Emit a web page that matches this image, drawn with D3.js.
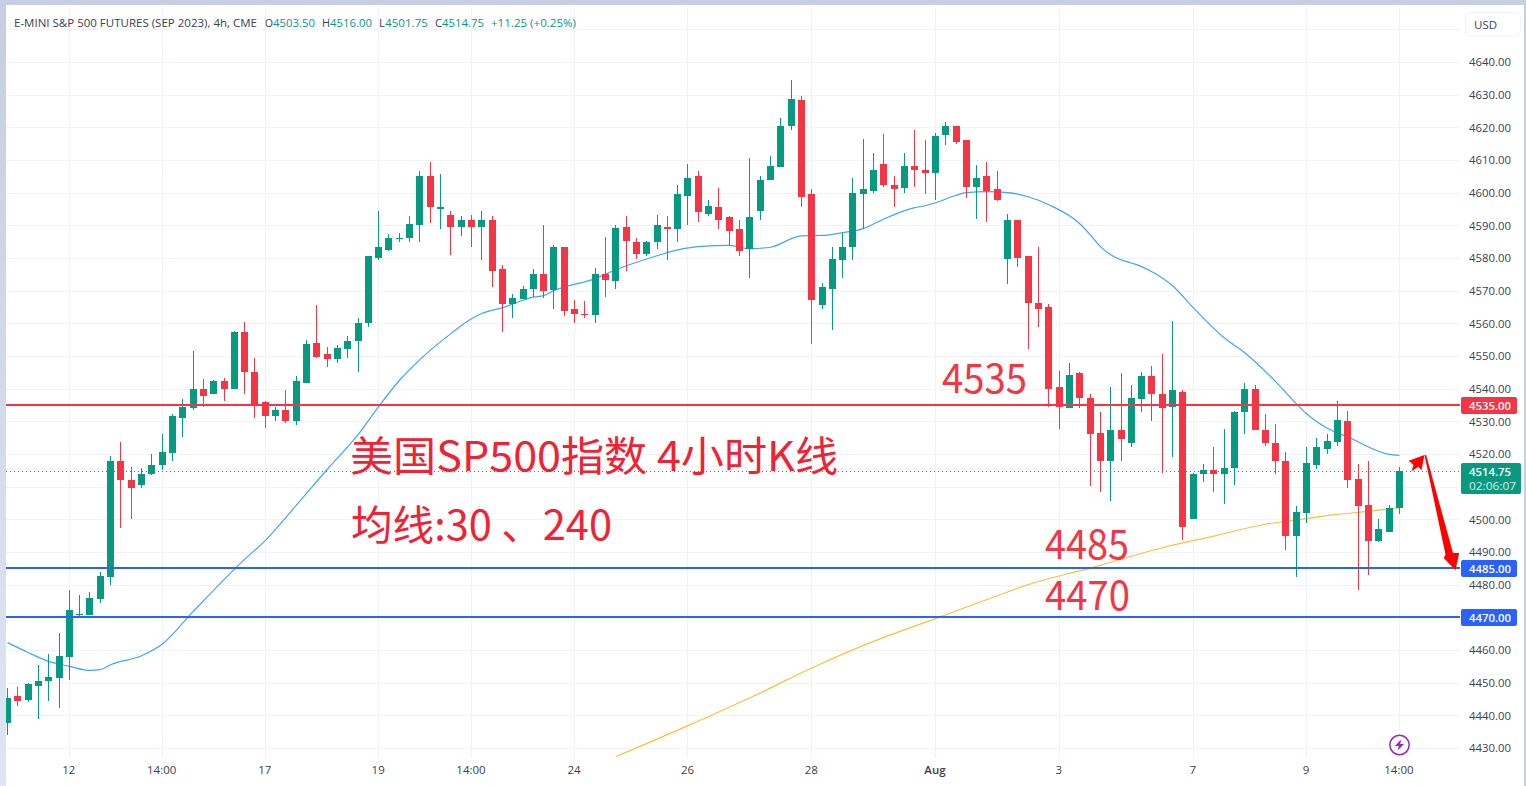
<!DOCTYPE html>
<html><head><meta charset="utf-8">
<style>
html,body{margin:0;padding:0;background:#fff;overflow:hidden}
svg{display:block}
text{font-family:"Open Sans","Noto Sans",sans-serif}
.cjk text{font-family:"Noto Sans CJK SC","Noto Sans",sans-serif}
</style></head><body>
<svg id="c" width="1526" height="786"></svg>
<script src="https://cdn.jsdelivr.net/npm/d3@7"></script>
<script>
const open=[4437.75,4446,4444.75,4449,4450.5,4451.5,4458,4470.75,4470.75,4475.75,
4482.5,4518,4512,4510.5,4513.75,4516.5,4520.25,4531,4534,4539.75,
4538.25,4542.5,4540,4557.5,4545.25,4536,4531.5,4533.5,4530,4541.75,
4554,4550.5,4549,4552.25,4554.5,4560.25,4580,4582.5,4586,4586.25,
4590,4605.25,4595,4593.25,4589.5,4591.75,4589.5,4591.5,4576.5,4566,
4567.5,4570.5,4575,4570.25,4583.25,4564.25,4563,4562.5,4575,4573,
4589.5,4584.75,4581.25,4584.75,4589.5,4589,4599,4605,4593.5,4595.75,
4592.5,4588.75,4582.75,4594.5,4603.75,4608,4620.5,4628.5,4599.5,4565.75,
4570.5,4579.25,4583.5,4599.5,4600.5,4608.75,4602.5,4601.5,4608.25,4607,
4606,4617.5,4620.5,4616,4601.75,4605,4601,4579.75,4591.5,4580.5,
4566.25,4565,4540.5,4534,4544.75,4537.25,4526.5,4517.75,4527.5,4523.25,
4536.75,4543.75,4538.5,4534.25,4539,4500.25,4513.75,4515.25,4513.75,4515.75,
4533,4539.75,4527.5,4523.5,4518,4495,4502,4516.5,4521.5,4523.75,
4530.25,4512.5,4504.5,4493.25,4496.25,4503.5];
const close=[4445.25,4444.5,4449.5,4450.5,4451.75,4458.25,4472.25,4471,4476,4482.75,
4518,4512,4509.5,4514,4516.75,4520.5,4531.5,4534.25,4539.75,4537.75,
4542.5,4539.75,4557.25,4545,4534.75,4531.75,4533.5,4530,4542.25,4553.75,
4549.75,4549,4552.5,4554.5,4560.25,4580.5,4583.25,4586.25,4586.25,4590.5,
4605,4595.5,4595.75,4589.5,4591.75,4589.5,4591.5,4576,4566,4567.75,
4570.5,4575,4570,4583.25,4563.75,4562.75,4562.5,4575,4573.25,4589.25,
4585.25,4581.25,4584.75,4590,4589,4599.5,4604.5,4594,4596,4591.75,
4588.25,4582.25,4592.5,4603.75,4608.25,4620.5,4628.75,4598.75,4567,4571,
4579.75,4583.5,4599.75,4601,4607,4602.25,4601.25,4608.25,4607,4606,
4617.25,4620.5,4615.5,4601.75,4604.5,4600.5,4597.75,4591.5,4580,4566.25,
4564.5,4540,4534.25,4544.25,4537.25,4526,4517.75,4527.5,4524.5,4537.25,
4543.75,4538.25,4534,4539.5,4497.75,4514,4515.25,4513.75,4515.75,4533,
4540,4527.25,4523.25,4518,4495,4502.25,4517.25,4522,4524,4530.5,
4512,4504,4493.25,4497,4503.5,4514.75];
const high=[4448.5,4448.75,4450,4455.5,4458.75,4465.25,4478.5,4476.75,4477.75,4484,
4519.25,4523.75,4516,4515.75,4520,4526,4532.25,4536.75,4551.5,4543,
4542.75,4543.25,4557.75,4560.5,4549.25,4536.25,4534.5,4539.5,4543.75,4554.75,
4565.75,4552.75,4553.5,4556,4561.75,4580.75,4594.5,4587.25,4587.75,4592.75,
4606.5,4609.25,4605.75,4594.25,4592.75,4593.25,4594.25,4592.75,4577.75,4569,
4571.5,4576.5,4590,4584,4583.5,4567,4566.75,4577,4586.5,4590,
4592.75,4586.25,4585.25,4593.25,4592.75,4602.5,4608.75,4606.75,4597.75,4601.5,
4592.75,4591.75,4610.75,4605,4611.25,4622.75,4634.5,4629.5,4601,4572.25,
4583.25,4587.75,4604.5,4616.5,4612,4618,4605,4612,4619.25,4616,
4618.25,4621.75,4620.5,4616,4608.5,4609.25,4606.5,4593.5,4591.5,4580.75,
4583.5,4566,4545.5,4547.75,4545,4538.5,4533,4540.5,4544.75,4541,
4545.25,4547,4550.75,4560.75,4539.5,4514.25,4517,4522,4527.75,4533.25,
4541.75,4541,4532.25,4529.25,4520.5,4504,4522.25,4524.75,4526.25,4536.25,
4533.25,4517,4518,4500.25,4504.5,4516];
const low=[4434,4443,4444,4439,4444.5,4442.25,4450.75,4470.5,4470.75,4474.5,
4480,4497.25,4500.25,4509.5,4513.5,4515.25,4518,4525.25,4533.5,4534.5,
4538.25,4536.25,4540,4538.5,4531,4528,4530.25,4529.5,4528.75,4541.75,
4549.25,4546.5,4548,4549.25,4545,4558.75,4579.5,4582.25,4584.75,4585,
4584.75,4590.75,4588.75,4581,4586.75,4583.5,4579.25,4571,4557.5,4561.75,
4567.5,4568,4567.75,4564.25,4562.25,4560.25,4561.5,4560.25,4568,4570.5,
4576,4579.75,4580.75,4582.75,4579.25,4585,4590,4591,4592.75,4588.75,
4583.75,4580.5,4573.75,4591.5,4603.75,4607.75,4619.25,4595.75,4553.75,4564.5,
4558,4573.75,4579.25,4588.75,4600,4601.75,4595.5,4600,4601.75,4599.5,
4597.75,4614.5,4615,4598.5,4592,4591,4597.5,4572,4577.25,4552.25,
4558.75,4534.25,4527.75,4534,4534,4510.25,4508.5,4505.75,4517.75,4522.25,
4533,4530.25,4514.25,4519,4493.75,4500.25,4511.5,4508.5,4504.75,4510.5,
4526,4527.25,4522.5,4513.75,4490.5,4482.25,4499,4515.5,4520,4522.5,
4509.5,4478.5,4483,4493,4496.25,4501.75];

const ma30Index=[0,2,4,6,8,9,10,13,15,18,23,25,28,31,34,36,38,40,43,45,46,48,51,52,53,57,59,63,65,67,70,72,74,77,79,81,83,85,88,89,90,92,93,95,97,99,101,104,105,106,107,110,111,113,115,118,120,123,125,126,128,130,134,135];
const ma30Value=[4462.25,4459.25,4456.5,4455,4453.75,4454,4455.5,4458.25,4461.75,4471.75,4487.75,4493.5,4504.25,4515.25,4525.9,4534.5,4542.5,4548.9,4556.85,4561.4,4563,4564.8,4568,4568.5,4570,4573.7,4576.4,4580.7,4582.5,4583.5,4583.85,4582.85,4583.3,4586.8,4586.9,4587.75,4589,4591.95,4595.4,4596,4596.9,4599.2,4600,4600.3,4600,4598.75,4596.3,4590.5,4587.15,4583.5,4581,4577.35,4575.8,4571.5,4564.8,4555.6,4551,4542.15,4535.4,4532.3,4527.9,4525.2,4519.9,4519.6];
const ma240Index=[59,66,73,78,84,90,96,99,105,112,113,117,122,125,129,132,135];
const ma240Value=[4427.35,4436.85,4446.85,4454.5,4462.65,4469.6,4476.6,4480,4485.05,4491.3,4492.1,4494.85,4498.5,4499.75,4501.5,4502.45,4503.6];

const dateTickIndex=[6,15,25,36,45,55,66,78,90,102,115,126,135];
const dateTickLabel=["12","14:00","17","19","14:00","24","26","28","Aug","3","7","9","14:00"];
const priceTicks=d3.range(4430,4641,10);
const levelPrices=[4535,4485,4470];
const levelColors=["#f23645","#2962ff","#2962ff"];
const lastPrice=4514.75;
const countdown="02:06:07";

const UP="#089981",DOWN="#f23645";
const svg=d3.select("#c");
const x=d3.scaleLinear().domain([0,135]).range([7.5,1399.4]);
const y=d3.scaleLinear().domain([4430,4640]).range([748,62]);
const plotL=6,plotR=1460,plotT=7,plotB=758;

// frame
svg.append("rect").attr("width",1526).attr("height",786).attr("fill","#fff");
const defs=svg.append("defs");
const lg=defs.append("linearGradient").attr("id","lg").attr("x1",0).attr("x2",0).attr("y1",0).attr("y2",1);
lg.append("stop").attr("offset",0).attr("stop-color","#c5cfe1");
lg.append("stop").attr("offset",1).attr("stop-color","#dfe6f2");
svg.append("rect").attr("x",0).attr("y",0).attr("width",6).attr("height",786).attr("fill","url(#lg)");
svg.append("rect").attr("x",0).attr("y",0).attr("width",1526).attr("height",5).attr("fill","#c5cfe1");
svg.append("rect").attr("x",1524).attr("y",0).attr("width",2).attr("height",786).attr("fill","#c5cfe1");
defs.append("clipPath").attr("id","plot").append("rect").attr("x",plotL).attr("y",plotT).attr("width",plotR-plotL).attr("height",plotB-plotT);

const plot=svg.append("g").attr("clip-path","url(#plot)");
// grid
plot.append("g").selectAll("line").data(d3.range(4430,4651,10)).join("line")
  .attr("x1",plotL).attr("x2",plotR)
  .attr("y1",d=>Math.round(y(d))+.5).attr("y2",d=>Math.round(y(d))+.5)
  .attr("stroke","#f0f3fa");
plot.append("g").selectAll("line").data(dateTickIndex).join("line")
  .attr("y1",plotT).attr("y2",plotB)
  .attr("x1",d=>Math.floor(x(d))+.5).attr("x2",d=>Math.floor(x(d))+.5)
  .attr("stroke","#f0f3fa");

// last price dotted
plot.append("line").attr("x1",plotL).attr("x2",plotR)
  .attr("y1",Math.round(y(lastPrice))+.5).attr("y2",Math.round(y(lastPrice))+.5)
  .attr("stroke",UP).attr("stroke-dasharray","1 3");

// moving averages
const lineGen=d3.line().curve(d3.curveMonotoneX).x(d=>x(d[0])).y(d=>y(d[1]));
plot.append("path").attr("d",lineGen(d3.zip(ma240Index,ma240Value))).attr("fill","none").attr("stroke","#f9c040").attr("stroke-width",1.2);
plot.append("path").attr("d",lineGen(d3.zip(ma30Index,ma30Value))).attr("fill","none").attr("stroke","#42a5f5").attr("stroke-width",1.2);

// candles
const candles=d3.range(open.length);
const gc=plot.append("g");
gc.selectAll("rect.w").data(candles).join("rect").attr("class","w")
  .attr("x",i=>Math.floor(x(i))).attr("width",1)
  .attr("y",i=>Math.round(y(high[i]))).attr("height",i=>Math.max(1,Math.round(y(low[i]))-Math.round(y(high[i]))))
  .attr("fill",i=>close[i]>=open[i]?UP:DOWN);
gc.selectAll("rect.b").data(candles).join("rect").attr("class","b")
  .attr("x",i=>Math.floor(x(i))-3).attr("width",7)
  .attr("y",i=>Math.round(y(Math.max(open[i],close[i]))))
  .attr("height",i=>Math.max(1,Math.round(y(Math.min(open[i],close[i])))-Math.round(y(Math.max(open[i],close[i])))))
  .attr("fill",i=>close[i]>=open[i]?UP:DOWN);

// level lines
plot.append("g").selectAll("line").data(levelPrices).join("line")
  .attr("x1",plotL).attr("x2",plotR)
  .attr("y1",d=>Math.round(y(d))).attr("y2",d=>Math.round(y(d)))
  .attr("stroke",(d,i)=>levelColors[i]).attr("stroke-width",2);

// annotations text
const ann=svg.append("g").attr("class","cjk");
function note(t,xx,yy,len,size,fill){
  ann.append("text").text(t).attr("x",xx).attr("y",yy).attr("font-size",size).attr("fill",fill)
   .attr("textLength",len).attr("lengthAdjust","spacingAndGlyphs");
}
note("美国SP500指数 4小时K线",350,470.5,488,41,"#ef2334");
note("均线:30 、240",351,540,261,41,"#ef2334");
note("4535",942,393,85,40,"#f23645");
note("4485",1045,559,84,40,"#f23645");
note("4470",1045,610,85,40,"#f23645");

// hand-drawn arrows, given in chart coordinates
const arrowUp=[[137.43,4519.7],[135.9,4517.95],[136.37,4516.6],[136.17,4514.75],[136.85,4516.1],[137.14,4515.05]];
const arrowDown=[[137.43,4519.7],[137.6,4519.6],[140.2,4489.7],[140.8,4489.7],[140.44,4484.4],[139.3,4488.2],[139.47,4489.2]];
const poly=d3.line().x(d=>x(d[0])).y(d=>y(d[1]));
svg.append("path").attr("d",poly(arrowUp)+"Z").attr("fill","#ff0000");
svg.append("path").attr("d",poly(arrowDown)+"Z").attr("fill","#ff0000");

// axes
const axisColor="#3c414f";
const xAxis=d3.axisBottom(x).tickValues(dateTickIndex).tickFormat((d,i)=>dateTickLabel[i]).tickSize(0).tickPadding(0);
const gx=svg.append("g").attr("transform","translate(-1,765.5)").call(xAxis);
gx.select(".domain").remove();
gx.selectAll("text").attr("fill",axisColor).attr("font-size",11.5).attr("dy","0.75em")
  .attr("font-weight",d=>d===90?600:400);
const yAxis=d3.axisRight(y).tickValues(priceTicks).tickFormat(d3.format(".2f")).tickSize(0).tickPadding(0);
const gy=svg.append("g").attr("transform","translate(1469,0)").call(yAxis);
gy.select(".domain").remove();
gy.selectAll("text").attr("fill",axisColor).attr("font-size",11.5).attr("textLength",42).attr("lengthAdjust","spacingAndGlyphs");

// price labels
levelPrices.forEach((p,i)=>{
  const cy=Math.round(y(p));
  svg.append("rect").attr("x",1461).attr("y",cy-8).attr("width",56).attr("height",17).attr("rx",2).attr("fill",levelColors[i]);
  svg.append("text").text(d3.format(".2f")(p)).attr("x",1469).attr("y",cy+4.5).attr("fill","#fff").attr("font-size",11.5).attr("font-weight",600)
    .attr("textLength",42).attr("lengthAdjust","spacingAndGlyphs");
});
const ly=Math.round(y(lastPrice));
svg.append("rect").attr("x",1461).attr("y",ly-8).attr("width",60).attr("height",31).attr("rx",2).attr("fill",UP);
svg.append("text").text(d3.format(".2f")(lastPrice)).attr("x",1469).attr("y",ly+5).attr("fill","#fff").attr("font-size",11.5).attr("font-weight",600)
  .attr("textLength",42).attr("lengthAdjust","spacingAndGlyphs");
svg.append("text").text(countdown).attr("x",1469).attr("y",ly+19).attr("fill","#d6efe9").attr("font-size",11.5)
  .attr("textLength",47).attr("lengthAdjust","spacingAndGlyphs");

// USD box
svg.append("rect").attr("x",1465.5).attr("y",12.5).attr("width",55).attr("height",23.5).attr("rx",5).attr("fill","#fff").attr("stroke","#eff2f8").attr("stroke-width",1);
svg.append("text").text("USD").attr("x",1474).attr("y",28.5).attr("fill",axisColor).attr("font-size",11.5);

// header
const header=[
 ["E-MINI S&P 500 FUTURES (SEP 2023), 4h, CME",14,243,"#3c414f"],
 ["O",265,8,"#3c414f"],["4503.50",273,42,UP],
 ["H",322,8,"#3c414f"],["4516.00",330,42,UP],
 ["L",379,6,"#3c414f"],["4501.75",385,43,UP],
 ["C",435,7,"#3c414f"],["4514.75",442,42,UP],
 ["+11.25 (+0.25%)",491,85,UP]];
svg.append("g").selectAll("text").data(header).join("text")
  .text(d=>d[0]).attr("x",d=>d[1]).attr("y",27).attr("textLength",d=>d[2]).attr("lengthAdjust","spacingAndGlyphs")
  .attr("fill",d=>d[3]).attr("font-size",11.5);

// purple bolt badge
const badge=svg.append("g").attr("transform","translate(1399.5,745)");
badge.append("circle").attr("r",9.7).attr("fill","#fff").attr("stroke","#9c27b0").attr("stroke-width",1.5);
badge.append("path").attr("d","M1.5,-5.5 L-4.5,1 L-0.8,1 L-1.8,5.5 L4.5,-1 L0.8,-1 Z").attr("fill","#9c27b0");
</script>
</body></html>
